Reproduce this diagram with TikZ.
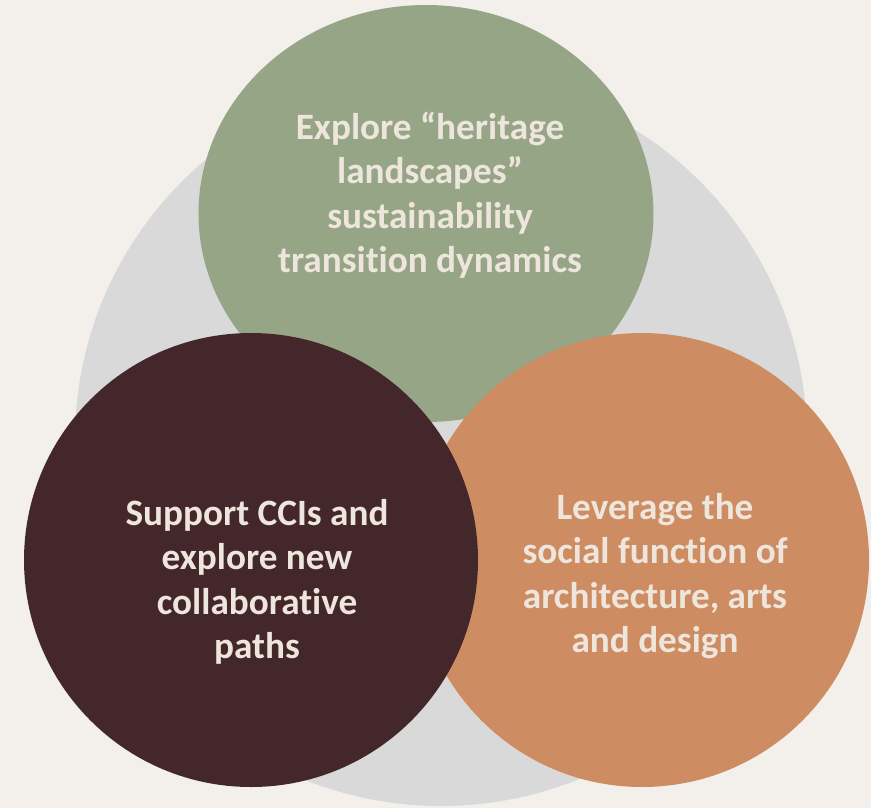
\documentclass[tikz,border=0pt]{standalone}
\usepackage{fontspec}
\setmainfont{Carlito}[Ligatures=NoCommon]
\usepackage{xcolor}
\usepackage{tikz}
\usetikzlibrary{positioning}
\definecolor{bgcream}{HTML}{F3F0EC}
\definecolor{ringgray}{HTML}{D9D9D9}
\definecolor{sage}{HTML}{97A587}
\definecolor{maroon}{HTML}{43272A}
\definecolor{clay}{HTML}{CE8C62}
\definecolor{paper}{HTML}{EEE6DC}
\tikzset{
  blurb/.style={text=paper, align=center, font=\bfseries\fontsize{27.9}{33.3}\selectfont, inner sep=0pt}
}

\begin{document}
\begin{tikzpicture}[x=0.75pt, y=-0.75pt]
          % background and the grey disc behind
          \fill[bgcream] (0,0) rectangle (871,808);
          \fill[ringgray] (441,440) circle[radius=366];
          % the three discs
          \fill[sage] (426,213.5) ellipse[x radius=227.5, y radius=208.5];
          \fill[clay] (642,560) circle[radius=227];
          \fill[maroon] (251,560) circle[radius=227];
          % texts
          \node[blurb] (heritage) at (430,195) {Explore “heritage\\landscapes”\\sustainability\\transition dynamics};
          \node[blurb] (ccis) at (257,582) {Support CCIs and\\explore new\\collaborative\\paths};
          \node[blurb] (social) at (655,576) {Leverage the\\social function of\\architecture, arts\\and design};
        \end{tikzpicture}
\end{document}
